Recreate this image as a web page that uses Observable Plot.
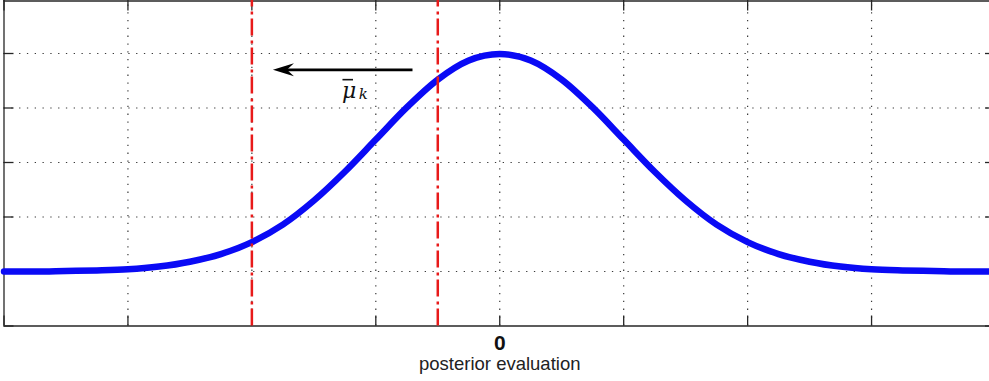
<!DOCTYPE html>
<html>
<head>
<meta charset="utf-8">
<script src="https://cdn.jsdelivr.net/npm/d3@7"></script>
<script src="https://cdn.jsdelivr.net/npm/@observablehq/plot@0.6"></script>
<style>
  html, body { margin: 0; padding: 0; background: #fff; overflow: hidden; }
  #chart svg { display: block; }
</style>
</head>
<body>
<div id="chart"></div>
<script>
// ---- data ----
const xs = [-4, -3.75, -3.5, -3.25, -3, -2.75, -2.5, -2.25, -2, -1.75, -1.5, -1.25, -1, -0.75, -0.5, -0.25, 0,
            0.25, 0.5, 0.75, 1, 1.25, 1.5, 1.75, 2, 2.25, 2.5, 2.75, 3, 3.25, 3.5, 3.75, 4];
const density = [0.000, 0.000, 0.001, 0.002, 0.004, 0.009, 0.018, 0.032, 0.054, 0.086, 0.130, 0.183, 0.242, 0.301, 0.352, 0.387, 0.399,
                 0.387, 0.352, 0.301, 0.242, 0.183, 0.130, 0.086, 0.054, 0.032, 0.018, 0.009, 0.004, 0.002, 0.001, 0.000, 0.000];
const xTicks = [-4, -3, -2, -1, 0, 1, 2, 3, 4];
const yTicks = [-0.1, 0, 0.1, 0.2, 0.3, 0.4, 0.5];
const gridXValues = [-3, -2, -1, 0, 1, 2, 3];
const gridYValues = [0, 0.1, 0.2, 0.3, 0.4];
const markerLines = [-2, -0.5];
const tickLabelValues = [0];
const tickLabelTexts = ["0"];
const xLabel = "posterior evaluation";
const arrowFromX = -0.70, arrowToX = -1.83, arrowYValue = 0.37;
const muLabel = "\u03BC";
const muSub = "k";

// ---- build ----
const curveData = xs.map((x, i) => ({x, y: density[i]}));
const tickLabels = tickLabelValues.map((v, i) => ({x: v, label: tickLabelTexts[i]}));

const X0 = -4, X1 = 4, Y0 = -0.1, Y1 = 0.5;
const xRange = [3.5, 995], yRange = [325.5, -1.5];
const pxX = (X1 - X0) / (xRange[1] - xRange[0]);
const pxY = (Y1 - Y0) / (yRange[0] - yRange[1]);
const tickLen = 10;
const frameColor = "#262626";
const gridColor = "#3a3a3a";

const arrowHead = {
  draw(ctx) {
    ctx.moveTo(0, 0);
    ctx.lineTo(21, -6.5);
    ctx.lineTo(14, 0);
    ctx.lineTo(21, 6.5);
    ctx.closePath();
  }
};

const labelFont = "'DejaVu Serif', 'Liberation Serif', serif";

const chart = Plot.plot({
  width: 989,
  height: 381,
  marginLeft: 0, marginRight: 0, marginTop: 0, marginBottom: 0,
  x: {domain: [X0, X1], range: xRange, axis: null},
  y: {domain: [Y0, Y1], range: yRange, axis: null},
  style: {fontFamily: "'Liberation Sans', Arial, sans-serif", background: "#fff"},
  marks: [
    // dotted grid
    Plot.ruleX(gridXValues, {x: d => d, y1: Y0, y2: Y1, stroke: gridColor, strokeWidth: 1.2, strokeDasharray: "1.3,6.5"}),
    Plot.ruleY(gridYValues, {y: d => d, x1: X0, x2: X1, stroke: gridColor, strokeWidth: 1.2, strokeDasharray: "1.3,6.5"}),
    // frame
    Plot.ruleY([Y0], {y: d => d, x1: X0, x2: X1, stroke: frameColor, strokeWidth: 1.3}),
    Plot.ruleY([Y1], {y: d => d, x1: X0, x2: X1, stroke: frameColor, strokeWidth: 1.3, dy: 2}),
    Plot.ruleX([X0, X1], {x: d => d, y1: Y0, y2: Y1, stroke: frameColor, strokeWidth: 1.3}),
    // tick marks (inward)
    Plot.ruleX(xTicks, {x: d => d, y1: Y0, y2: Y0 + tickLen * pxY, stroke: frameColor, strokeWidth: 1.3}),
    Plot.ruleX(xTicks, {x: d => d, y1: Y1 - (tickLen + 2) * pxY, y2: Y1, stroke: frameColor, strokeWidth: 1.3}),
    Plot.ruleY(yTicks, {y: d => d, x1: X0, x2: X0 + tickLen * pxX, stroke: frameColor, strokeWidth: 1.3}),
    Plot.ruleY(yTicks, {y: d => d, x1: X1 - tickLen * pxX, x2: X1, stroke: frameColor, strokeWidth: 1.3}),
    // density curve
    Plot.line(curveData, {x: "x", y: "y", stroke: "#0a0af5", strokeWidth: 6.5, curve: "monotone-x"}),
    // red dash-dot markers
    Plot.ruleX(markerLines, {x: d => d, y1: Y0, y2: Y1, stroke: "#e81a1a", strokeWidth: 2.5, strokeDasharray: "17,4,3,5"}),
    // arrow
    Plot.ruleY([arrowYValue], {y: d => d, x1: arrowToX + 14 * pxX, x2: arrowFromX, stroke: "#000", strokeWidth: 2.8}),
    Plot.dot([arrowToX], {x: d => d, y: arrowYValue, symbol: arrowHead, fill: "#000", stroke: "none"}),
    // mu-bar-k label
    Plot.text([muLabel], {x: -1.215, y: 0.332, text: d => d, fontSize: 22, fontStyle: "italic",
      fontFamily: labelFont, fill: "#111", lineAnchor: "middle"}),
    Plot.ruleY([0.352], {y: d => d, x1: -1.265, x2: -1.18, stroke: "#111", strokeWidth: 1.6}),
    Plot.text([muSub], {x: -1.1, y: 0.325, text: d => d, fontSize: 15, fontStyle: "italic",
      fontFamily: labelFont, fill: "#111", lineAnchor: "middle"}),
    // x tick label and axis label
    Plot.text(tickLabels, {x: "x", y: Y0, text: "label", dy: 17, fontSize: 21, fontWeight: "bold", fill: "#111", lineAnchor: "middle"}),
    Plot.text([xLabel], {x: 0, y: Y0, text: d => d, dy: 38, fontSize: 18.5, fill: "#222", lineAnchor: "middle",
      letterSpacing: "1px"})
  ]
});
document.getElementById("chart").appendChild(chart);
</script>
</body>
</html>
